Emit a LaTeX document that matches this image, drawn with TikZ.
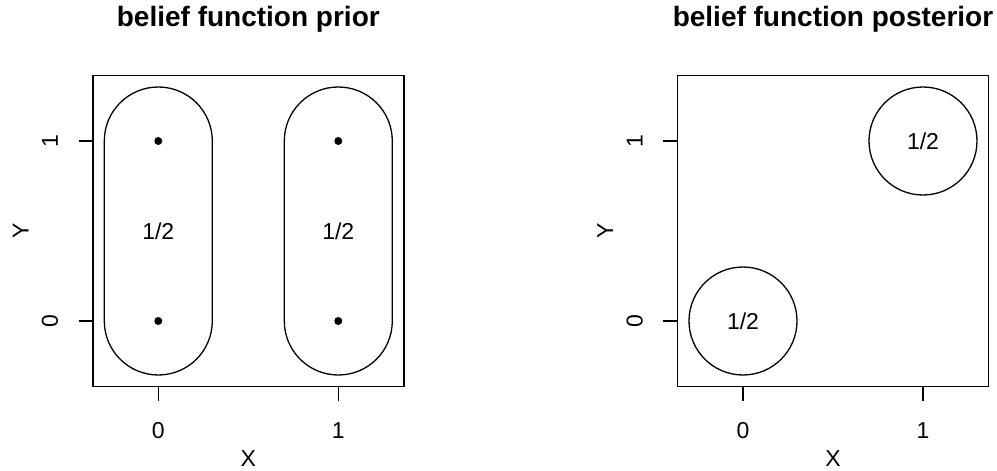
\documentclass[tikz,border=0pt]{standalone}
\usepackage{fontspec}
\setmainfont{Liberation Sans}
\usepackage{tikz}

\tikzset{
  frame/.style={draw, line width=0.75pt},
  focal/.style={draw, line width=0.65pt},
  tick/.style={line width=0.75pt},
  ticklabel/.style={font=\fontsize{11.5}{13}\selectfont, inner sep=0pt},
  axislabel/.style={font=\fontsize{11.5}{13}\selectfont, inner sep=0pt},
  mass/.style={font=\fontsize{11.5}{13}\selectfont, inner sep=0pt},
  paneltitle/.style={font=\fontsize{14}{16}\selectfont\bfseries, inner sep=0pt},
  atom/.style={fill, circle, inner sep=0pt, minimum size=4pt}
}

\newcommand{\panelframe}{%
  \draw[frame] (-0.364,-0.364) rectangle (1.364,1.364);
  \foreach \v in {0,1} {
    \draw[tick] (\v,-0.364) -- (\v,-0.442);
    \draw[tick] (-0.364,\v) -- (-0.442,\v);
  }
}

\begin{document}
\begin{tikzpicture}[x=0.5pt, y=-0.5pt]
  \useasboundingbox (0,0) rectangle (997,471);

  % prior
  \begin{scope}[shift={(158.3,321)}, x=90pt, y=90pt]
    \panelframe
    \node[paneltitle] (titleprior) at (0.5,1.675) {belief function prior};
    \node[ticklabel] (px0) at (0,-0.609) {0};
    \node[ticklabel] (px1) at (1,-0.609) {1};
    \node[ticklabel, rotate=90] (py0) at (-0.602,0) {0};
    \node[ticklabel, rotate=90] (py1) at (-0.602,1) {1};
    \node[axislabel] (pxlab) at (0.5,-0.767) {X};
    \node[axislabel, rotate=90] (pylab) at (-0.765,0.5) {Y};
    \foreach \c in {0,1} {
      \draw[focal] (\c-0.3,0) -- (\c-0.3,1) arc (180:0:0.3) -- (\c+0.3,0) arc (0:-180:0.3) -- cycle;
      \node[atom] (a\c0) at (\c,0) {};
      \node[atom] (a\c1) at (\c,1) {};
      \node[mass] (m\c) at (\c,0.5) {1/2};
    }
  \end{scope}

  % posterior
  \begin{scope}[shift={(743,321)}, x=90pt, y=90pt]
    \panelframe
    \node[paneltitle] (titlepost) at (0.5,1.675) {belief function posterior};
    \node[ticklabel] (qx0) at (0,-0.609) {0};
    \node[ticklabel] (qx1) at (1,-0.609) {1};
    \node[ticklabel, rotate=90] (qy0) at (-0.602,0) {0};
    \node[ticklabel, rotate=90] (qy1) at (-0.602,1) {1};
    \node[axislabel] (qxlab) at (0.5,-0.767) {X};
    \node[axislabel, rotate=90] (qylab) at (-0.765,0.5) {Y};
    \draw[focal] (0,0) circle (0.3);
    \draw[focal] (1,1) circle (0.3);
    \node[mass] (n00) at (0,0) {1/2};
    \node[mass] (n11) at (1,1) {1/2};
  \end{scope}
\end{tikzpicture}
\end{document}
